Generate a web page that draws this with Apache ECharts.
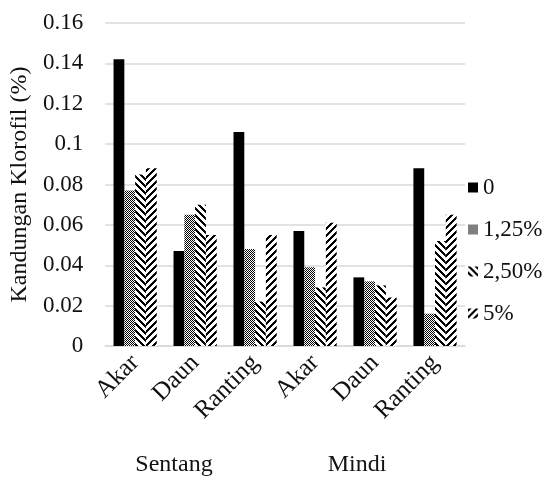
<!DOCTYPE html>
<html>
<head>
<meta charset="utf-8">
<script src="https://cdn.jsdelivr.net/npm/echarts@6/dist/echarts.min.js"></script>
<style>
html,body{margin:0;padding:0;background:#fff;}
#c{width:546px;height:477px;}
</style>
</head>
<body>
<div id="c"></div>
<script>
// ---- data ----
const categories = ['Akar', 'Daun', 'Ranting', 'Akar', 'Daun', 'Ranting'];
const groups = ['Sentang', 'Mindi'];
const seriesNames = ['0', '1,25%', '2,50%', '5%'];
const s0    = [0.142, 0.047, 0.106, 0.057, 0.034, 0.088];
const s125  = [0.077, 0.065, 0.048, 0.039, 0.032, 0.016];
const s250  = [0.085, 0.070, 0.022, 0.029, 0.030, 0.052];
const s5    = [0.088, 0.055, 0.055, 0.061, 0.024, 0.065];
const yTicks = { min: 0, max: 0.16, interval: 0.02 };

// ---- patterns ----
function makePattern(size, fn) {
  const cv = document.createElement('canvas');
  cv.width = size; cv.height = size;
  const ctx = cv.getContext('2d');
  ctx.fillStyle = '#fff';
  ctx.fillRect(0, 0, size, size);
  ctx.fillStyle = '#000';
  for (let y = 0; y < size; y++) {
    for (let x = 0; x < size; x++) {
      if (fn(x, y, size)) ctx.fillRect(x, y, 1, 1);
    }
  }
  return { image: cv, repeat: 'repeat' };
}
const patChecker = makePattern(2, (x, y) => (x + y) % 2 === 0);
const patBack = makePattern(7, (x, y, n) => ((x - y + 2 * n) % n) < 3);   // "\" stripes
const patFwd = makePattern(7, (x, y, n) => ((x + y) % n) < 3);            // "/" stripes

const fills = ['#000', patChecker, patBack, patFwd];
const values = [s0, s125, s250, s5];

const FONT = "'Liberation Serif', 'Times New Roman', serif";

const chart = echarts.init(document.getElementById('c'), null, { renderer: 'canvas' });
chart.setOption({
  animation: false,
  backgroundColor: '#fff',
  textStyle: { fontFamily: FONT },
  legend: {
    orient: 'vertical',
    left: 463,
    top: 171,
    itemWidth: 10,
    itemHeight: 10,
    itemGap: 19,
    icon: 'rect',
    textStyle: { fontFamily: FONT, fontSize: 23, color: '#111' },
    data: seriesNames
  },
  grid: [
    { left: 104, right: 81, top: 23, bottom: 131, containLabel: false },
    { left: 82.5, right: 97.5, top: 23, bottom: 131, containLabel: false }
  ],
  xAxis: [
    {
      type: 'category',
      gridIndex: 0,
      data: categories,
      axisLine: { show: true, lineStyle: { color: '#d9d9d9', width: 1.5 } },
      axisTick: { show: false },
      axisLabel: {
        rotate: 45,
        interval: 0,
        margin: 13,
        fontFamily: FONT,
        fontSize: 25,
        color: '#111'
      }
    },
    {
      type: 'category',
      gridIndex: 1,
      data: groups,
      axisLine: { show: false },
      axisTick: { show: false },
      axisLabel: {
        interval: 0,
        margin: 110,
        fontFamily: FONT,
        fontSize: 24,
        color: '#111'
      }
    }
  ],
  yAxis: [
    {
      type: 'value',
      gridIndex: 0,
      min: yTicks.min,
      max: yTicks.max,
      interval: yTicks.interval,
      name: 'Kandungan Klorofil (%)',
      nameLocation: 'middle',
      nameGap: 69,
      nameRotate: 90,
      nameTextStyle: { fontFamily: FONT, fontSize: 24, color: '#111' },
      axisLine: { show: false },
      axisTick: { show: false },
      splitLine: { lineStyle: { color: '#d9d9d9', width: 1.5 } },
      axisLabel: {
        margin: 22,
        fontFamily: FONT,
        fontSize: 23,
        color: '#111',
        formatter: v => String(+v.toFixed(2))
      }
    },
    {
      type: 'value',
      gridIndex: 1,
      show: false,
      min: 0,
      max: 1
    }
  ],
  series: seriesNames.map((name, i) => ({
    name: name,
    type: 'bar',
    xAxisIndex: 0,
    yAxisIndex: 0,
    data: values[i],
    barGap: '0%',
    barCategoryGap: '28%',
    itemStyle: { color: fills[i] }
  }))
});
</script>
</body>
</html>
